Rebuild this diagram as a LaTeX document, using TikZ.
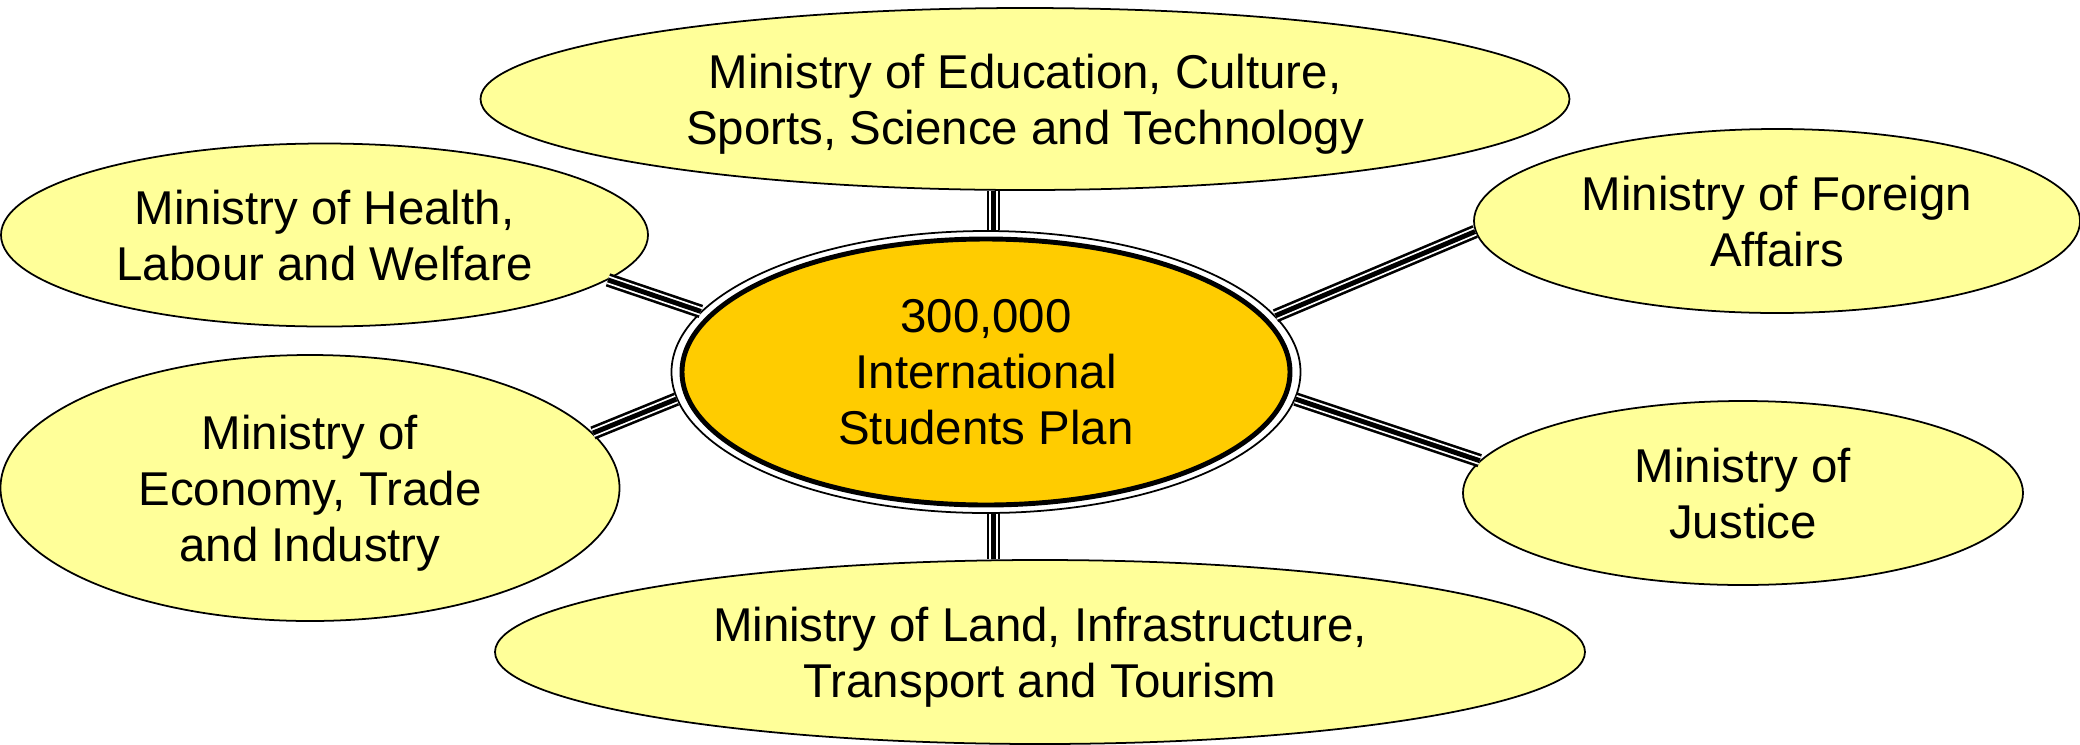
\documentclass[tikz,border=0pt]{standalone}
\usepackage{fontspec}
\setmainfont{Liberation Sans}
\usetikzlibrary{shapes.geometric}
\definecolor{paleyellow}{HTML}{FFFF99}
\definecolor{gold}{HTML}{FFCC00}

\begin{document}
\begin{tikzpicture}[semithick,
                    font=\fontsize{13.5}{15.9}\selectfont,
                    ministry/.style={ellipse,draw,fill=paleyellow,line width=0.5pt,
                                     inner sep=0pt,align=center,text depth=0pt},
                    ring/.style={ellipse,draw,line width=0.5pt,inner sep=0pt,
                                 minimum width=6.29cm,minimum height=2.82cm},
                    hub/.style={ellipse,draw,fill=gold,line width=1.4pt,inner sep=0pt,
                                align=center,text depth=0pt,
                                minimum width=6.08cm,minimum height=2.66cm},
                    link/.style={draw,line width=3.9pt,
                                 postaction={draw=white,line width=2.4pt},
                                 postaction={draw=black,line width=1.4pt}}]
      \useasboundingbox (0,0) rectangle (20.8,-7.44);
      \node[ring](R) at (9.86,-3.72) {};
      \node[hub](C)  at (R) {300,000\\International\\Students Plan};
      \node[ministry,minimum width=10.89cm,minimum height=1.82cm](T) at (10.25,-0.99)
           {Ministry of Education, Culture,\\Sports, Science and Technology};
      \node[ministry,minimum width=6.47cm,minimum height=1.83cm](H) at (3.245,-2.35)
           {Ministry of Health,\\Labour and Welfare};
      \node[ministry,minimum width=6.19cm,minimum height=2.66cm](E) at (3.10,-4.88)
           {Ministry of\\Economy, Trade\\and Industry};
      \node[ministry,minimum width=6.06cm,minimum height=1.84cm](F) at (17.77,-2.21)
           {Ministry of Foreign\\Affairs};
      \node[ministry,minimum width=5.60cm,minimum height=1.84cm](J) at (17.43,-4.93)
           {Ministry of\\Justice};
      \node[ministry,minimum width=10.90cm,minimum height=1.84cm](B) at (10.40,-6.52)
           {Ministry of Land, Infrastructure,\\Transport and Tourism};
      \path (R.87)    edge [link] (T.south -| R.87)
            (R.-87)   edge [link] (B.north -| R.-87)
            (R.168.7) edge [link] (H.-9)
            (R.185.5) edge [link] (E.11.6)
            (R.11.9)  edge [link] (F.182.5)
            (R.-5.5)  edge [link] (J.173.5);
\end{tikzpicture}
\end{document}
